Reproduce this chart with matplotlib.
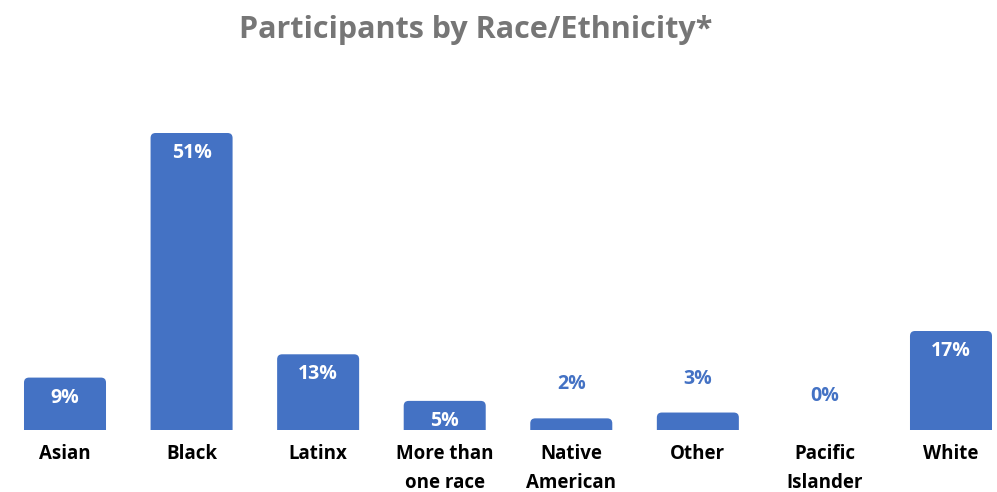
import matplotlib
matplotlib.use("Agg")
import matplotlib.pyplot as plt
from matplotlib.patches import FancyBboxPatch

categories = ["Asian", "Black", "Latinx", "More than\none race", "Native\nAmerican",
              "Other", "Pacific\nIslander", "White"]
values = [9, 51, 13, 5, 2, 3, 0, 17]
value_labels = ["9%", "51%", "13%", "5%", "2%", "3%", "0%", "17%"]
title = "Participants by Race/Ethnicity*"

BLUE = "#4472C4"
FONT = ["Open Sans", "DejaVu Sans"]

W, H = 997, 492
fig = plt.figure(figsize=(W / 100, H / 100), dpi=100)
spacing = 126.57
ax = fig.add_axes([0, 62 / H, 1, 370 / H])
ax.set_xlim(-65 / spacing, (W - 65) / spacing)
px_per_unit = 297 / 51
ax.set_ylim(0, 370 / px_per_unit)

bars = ax.bar(range(len(categories)), values, width=0.648, color=BLUE)
r_px = 5
rx = r_px / spacing
ry = r_px / px_per_unit
for b in bars:
    h = b.get_height()
    b.set_visible(False)
    if h <= 0:
        continue
    p = FancyBboxPatch((b.get_x(), -ry * 2), b.get_width(), h + ry * 2,
                       boxstyle=f"round,pad=0,rounding_size={rx}",
                       mutation_aspect=ry / rx, facecolor=BLUE, edgecolor="none",
                       clip_on=True)
    ax.add_patch(p)

for b, v, lab in zip(bars, values, value_labels):
    x = b.get_x() + b.get_width() / 2
    if v >= 5:
        ax.annotate(lab, (x, v), xytext=(0, -14.4), textcoords="offset points",
                    ha="center", va="center", color="white", fontsize=14,
                    fontweight="bold", family=FONT)
    else:
        ax.annotate(lab, (x, v), xytext=(0, 24.5), textcoords="offset points",
                    ha="center", va="center", color=BLUE, fontsize=14,
                    fontweight="bold", family=FONT)

ax.set_xticks(range(len(categories)))
ax.set_xticklabels(categories, fontsize=13.5, fontweight="bold", family=FONT,
                   color="black", linespacing=1.62)
ax.tick_params(axis="x", length=0, pad=10)
ax.set_yticks([])
for s in ax.spines.values():
    s.set_visible(False)

fig.text(476 / W, 1 - 30 / H, title, ha="center", va="center", fontsize=22,
         fontweight="bold", color="#767676", family=FONT)

fig.savefig("out.png", dpi=100)
